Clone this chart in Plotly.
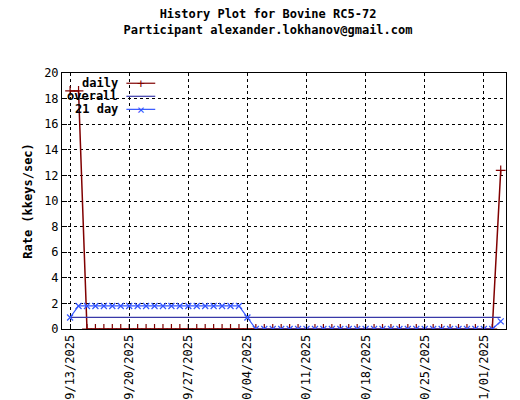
import pandas as pd
import plotly.graph_objects as go

dates = pd.date_range("2025-09-13", "2025-11-03", freq="D")
daily = [18.6, 18.6] + [0.0] * 49 + [12.4]
overall = [0.91] * len(dates)
day21 = [0.9] + [1.8] * 20 + [0.9] + [0.0] * 29 + [0.6]
tick_dates = pd.date_range("2025-09-13", "2025-11-01", freq="7D")
series_names = ["daily", "overall", "21 day"]
series_colors = ["#800000", "#3838a8", "#3355ff"]
series_marks = ["+", "", "×"]

font = dict(family="DejaVu Sans Mono", size=12, color="black")

fig = go.Figure()
fig.add_trace(go.Scatter(x=dates, y=daily, name="daily", mode="lines+markers",
                         line=dict(color=series_colors[0], width=1.5),
                         marker=dict(symbol="cross-thin", size=7, line=dict(color=series_colors[0], width=1.2))))
fig.add_trace(go.Scatter(x=dates, y=overall, name="overall", mode="lines",
                         line=dict(color=series_colors[1], width=1.2)))
fig.add_trace(go.Scatter(x=dates, y=day21, name="21 day", mode="lines+markers",
                         line=dict(color=series_colors[2], width=1.2),
                         marker=dict(symbol="x-thin", size=6, line=dict(color=series_colors[2], width=1.2))))

# gnuplot-style key: text right-aligned, sample line to the right
for i, (name, color, mark) in enumerate(zip(series_names, series_colors, series_marks)):
    yk = 0.96 - i * 0.051
    fig.add_annotation(text=f"<b>{name}</b>", xref="paper", yref="paper", x=0.13, y=yk,
                       xanchor="right", yanchor="middle", showarrow=False, font=dict(size=12))
    fig.add_shape(type="line", xref="paper", yref="paper", x0=0.145, x1=0.21, y0=yk, y1=yk,
                  line=dict(color=color, width=1.2))
    if mark:
        fig.add_annotation(text=mark, xref="paper", yref="paper", x=0.1775, y=yk,
                           xanchor="center", yanchor="middle", showarrow=False,
                           font=dict(size=13, color=color))

grid = dict(showgrid=True, gridcolor="black", griddash="dot", gridwidth=1,
            showline=True, linecolor="black", mirror=True, ticks="inside",
            ticklen=5, tickcolor="black", zeroline=False, automargin=False)
fig.update_layout(
    width=520, height=400, font=font,
    paper_bgcolor="white", plot_bgcolor="white",
    margin=dict(l=54, r=22, t=65, b=79),
    showlegend=False,
    title=dict(text="<b>History Plot for Bovine RC5-72<br>Participant alexander.lokhanov@gmail.com</b>",
               x=0.5, y=0.975, xanchor="center", yanchor="top", font=dict(size=12)),
    xaxis=dict(range=["2025-09-12 01:00", "2025-11-03 15:00"], tickvals=tick_dates,
               tickformat="%m/%d/%Y", tickangle=-90, tickfont=dict(size=12), **grid),
    yaxis=dict(range=[0, 20], dtick=2, tickfont=dict(size=12),
               title=dict(text="<b>Rate (kkeys/sec)</b>", standoff=8, font=dict(size=12)), **grid),
)
fig.write_html("out.html")
